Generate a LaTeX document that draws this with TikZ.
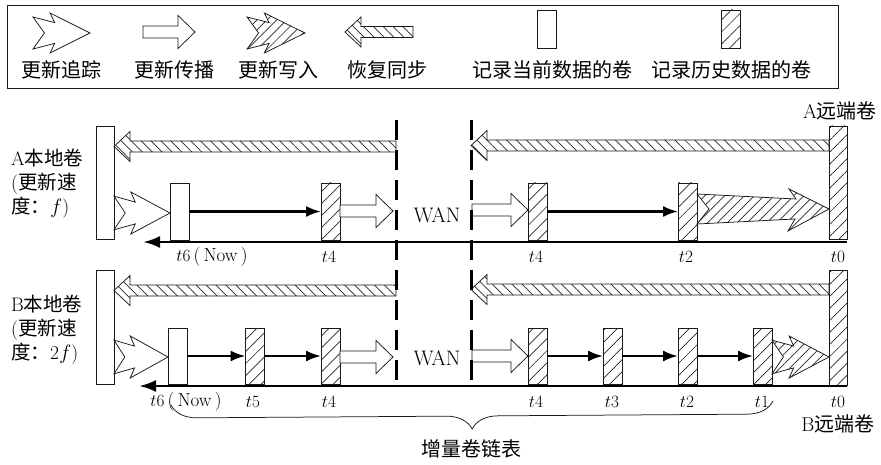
\documentclass[tikz,border=0pt]{standalone}
\usepackage{fontspec}
\newfontfamily\cjk{Noto Sans CJK SC}
\usetikzlibrary{arrows.meta,patterns.meta,decorations.pathreplacing}

\tikzset{
  shp/.style={draw=black!90, line width=0.75pt, line join=miter},
  hatchF/.style={preaction={fill=white}, pattern={Lines[angle=45,distance=8.5pt,line width=0.7pt]}, pattern color=black!85},
  hatchA/.style={preaction={fill=white}, pattern={Lines[angle=45,distance=7pt,line width=0.7pt]}, pattern color=black!85},
  hatchB/.style={preaction={fill=white}, pattern={Lines[angle=-45,distance=7pt,line width=0.7pt]}, pattern color=black!85},
  vol/.style={shp, fill=white, minimum width=19pt, minimum height=57pt, inner sep=0pt, outer sep=0pt},
  hvol/.style={vol, hatchF},
  bigvol/.style={vol, minimum width=18pt, minimum height=114pt},
  hbigvol/.style={bigvol, hatchF},
  conn/.style={line width=2.3pt, -{Latex[length=15pt,width=11pt]}},
  tline/.style={line width=2.8pt, -{Latex[length=17pt,width=12pt]}},
  wanline/.style={line width=3pt, dash pattern=on 20pt off 10pt},
  cjklbl/.style={font=\fontsize{20}{24}\selectfont\cjk, inner sep=0pt},
  side/.style={font=\fontsize{19.5}{24}\selectfont, align=left, inner sep=0pt},
  remlab/.style={font=\fontsize{20}{22}\selectfont, inner sep=0pt},
  tlab/.style={font=\fontsize{19}{22}\selectfont, inner sep=0pt},
  wantext/.style={font=\fontsize{21}{24}\selectfont, inner sep=0pt},
}

% right-pointing open block arrow: x1, x2(tip), yc
\newcommand{\propArrow}[3]{%
  \draw[shp, fill=white] (#1,{#3-6}) -- ({#2-17},{#3-6}) -- ({#2-17},{#3-16.5}) -- (#2,#3)
    -- ({#2-17},{#3+16.5}) -- ({#2-17},{#3+6}) -- (#1,{#3+6}) -- cycle;}
% left-pointing hatched block arrow: xtip, xtail, yc
\newcommand{\recArrow}[3]{%
  \draw[shp, hatchB] (#1,#3) -- ({#1+16},{#3-15}) -- ({#1+16},{#3-5.5}) -- (#2,{#3-5.5})
    -- (#2,{#3+5.5}) -- ({#1+16},{#3+5.5}) -- ({#1+16},{#3+15}) -- cycle;}
% zigzag arrow: x0, x1(tip), yc, half height, style
\newcommand{\zigArrow}[5]{%
  \draw[shp,#5] (#1,{#3-0.8*#4}) -- ({#1+0.38*(#2-#1)},{#3-0.52*#4}) -- ({#1+0.3*(#2-#1)},{#3-#4})
    -- (#2,#3) -- ({#1+0.3*(#2-#1)},{#3+#4}) -- ({#1+0.38*(#2-#1)},{#3+0.52*#4})
    -- (#1,{#3+0.8*#4}) -- ({#1+0.2*(#2-#1)},#3) -- cycle;}

\begin{document}
\begin{tikzpicture}[x=1pt,y=-1pt]
\useasboundingbox (0,0) rectangle (881,465);

% ---------------- legend ----------------
\draw[shp, line width=0.9pt] (7,5) rectangle (838,88);
\zigArrow{33}{90}{33}{20}{fill=white}
\propArrow{143}{195}{32}
\zigArrow{247}{305}{33}{20}{hatchA}
\recArrow{345}{413}{32}
\node[vol, minimum height=38pt] (lcur) at (546.5,29) {};
\node[hvol, minimum height=38pt] (lhist) at (731,29) {};
\node[cjklbl] (l1) at (61,70) {更新追踪};
\node[cjklbl] (l2) at (174,70) {更新传播};
\node[cjklbl] (l3) at (278,70) {更新写入};
\node[cjklbl] (l4) at (387,70) {恢复同步};
\node[cjklbl] (l5) at (552,70) {记录当前数据的卷};
\node[cjklbl] (l6) at (731,70) {记录历史数据的卷};

% ---------------- A ----------------
\node[side, anchor=west] (Alab) at (11,184) {A{\cjk 本地卷}\\({\cjk 更新速}\\{\cjk 度：}$f$)};
\node[bigvol, minimum height=113pt] (Aloc) at (105,182.5) {};
\node[hbigvol, minimum height=113pt] (Arem) at (838,182.5) {};
\node[remlab] (Aremlab) at (840,111) {A{\cjk 远端卷}};

\draw[tline] (847,242) -- (143,242);

\recArrow{114}{396}{146.5}
\recArrow{471}{829}{145.5}

\node[vol] (t6a) at (179.5,211.5) {};
\node[hvol] (t4a) at (330.5,211.5) {};
\node[hvol] (t4a2) at (537.5,211.5) {};
\node[hvol] (t2a) at (687.5,211.5) {};

\zigArrow{114}{170}{213}{21}{fill=white}
\draw[conn] (t6a.east) -- (t4a.west);
\propArrow{340}{393}{211}
\node[wantext] (wanA) at (437,215) {WAN};
\propArrow{472}{528}{210}
\draw[conn] (t4a2.east) -- (t2a.west);
\draw[shp, hatchA] (697,194) -- (796,199) -- (789,189) -- (829,209) -- (788,231) -- (795,219)
  -- (697,224) -- (709,209) -- cycle;

\node[tlab] at (212,257) {$t6$\,(\,Now\,)};
\node[tlab] at (329,257) {$t4$};
\node[tlab] at (536,257) {$t4$};
\node[tlab] at (686,257) {$t2$};
\node[tlab] at (838,257) {$t0$};

% ---------------- B ----------------
\node[side, anchor=west] (Blab) at (11,330) {B{\cjk 本地卷}\\({\cjk 更新速}\\{\cjk 度：}2$f$)};
\node[bigvol] (Bloc) at (105,327) {};
\node[hbigvol, minimum height=115pt] (Brem) at (838,327.5) {};

\draw[tline] (847,386) -- (139,386);

\recArrow{114}{396}{290.5}
\recArrow{471}{829}{289.5}

\node[vol, minimum height=56pt] (t6b) at (177.5,356) {};
\node[hvol, minimum height=56pt] (t5b) at (255,356) {};
\node[hvol, minimum height=56pt] (t4b) at (330.5,356) {};
\node[hvol, minimum height=56pt] (t4b2) at (537.5,356) {};
\node[hvol, minimum height=56pt] (t3b) at (612.5,356) {};
\node[hvol, minimum height=56pt] (t2b) at (687.5,356) {};
\node[hvol, minimum height=56pt] (t1b) at (762.5,356) {};

\zigArrow{114}{168}{357}{21}{fill=white}
\draw[conn] (t6b.east) -- (t5b.west);
\draw[conn] (t5b.east) -- (t4b.west);
\propArrow{340}{393}{357}
\node[wantext] (wanB) at (437,358) {WAN};
\propArrow{472}{528}{356}
\draw[conn] (t4b2.east) -- (t3b.west);
\draw[conn] (t3b.east) -- (t2b.west);
\draw[conn] (t2b.east) -- (t1b.west);
\zigArrow{772}{829}{357}{21}{hatchA}

\node[tlab] at (186,402) {$t6$\,(\,Now\,)};
\node[tlab] at (253,402) {$t5$};
\node[tlab] at (329,402) {$t4$};
\node[tlab] at (536,402) {$t4$};
\node[tlab] at (612,402) {$t3$};
\node[tlab] at (687,402) {$t2$};
\node[tlab] at (762,402) {$t1$};
\node[tlab] at (838,402) {$t0$};
\node[remlab] (Bremlab) at (838,424) {B{\cjk 远端卷}};

% ---------------- WAN boundaries ----------------
\coordinate (w1t) at (396,120);
\coordinate (w1b) at (396,386);
\coordinate (w2t) at (471,120);
\coordinate (w2b) at (471,386);
\draw[wanline] (w1t) -- (w1b);
\draw[wanline] (w2t) -- (w2b);

% ---------------- brace ----------------
\coordinate (brL) at (171,405);
\coordinate (brR) at (773,401);
\draw[shp, decorate, decoration={brace, amplitude=26pt, mirror}] (brL) -- (brR);
\node[cjklbl] (chain) at (471,449) {增量卷链表};
\end{tikzpicture}
\end{document}
